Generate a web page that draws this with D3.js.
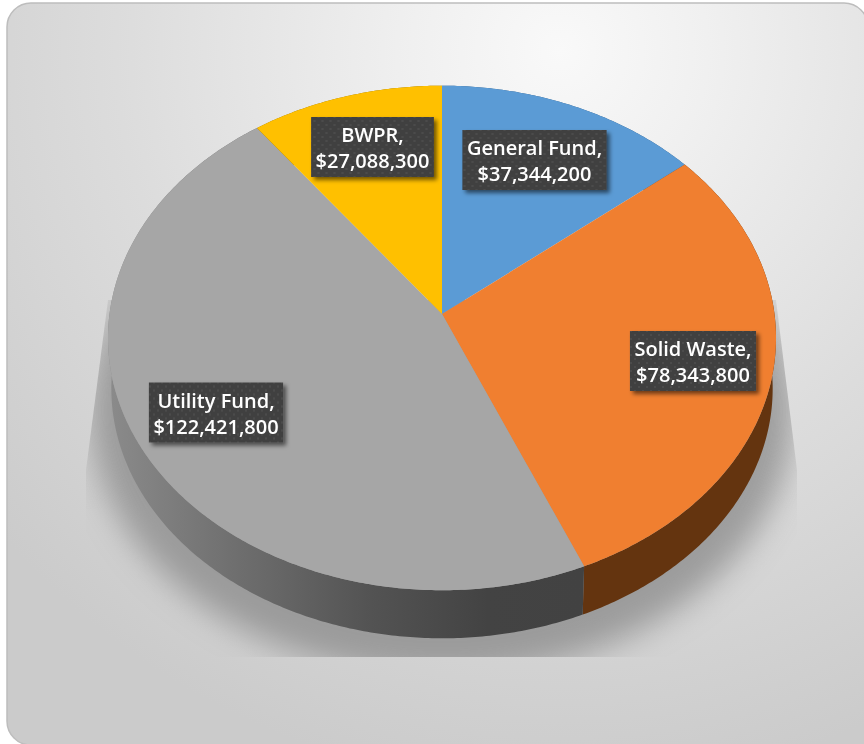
<!DOCTYPE html>
<html>
<head>
<meta charset="utf-8">
<script src="https://cdn.jsdelivr.net/npm/d3@7"></script>
<style>
  html, body { margin: 0; padding: 0; background: #fff; }
  svg { display: block; }
</style>
</head>
<body>
<svg id="chart" width="864" height="744"></svg>
<script>
// Fund budgets
const fundNames = ["General Fund", "Solid Waste", "Utility Fund", "BWPR"];
const fundBudgets = [37344200, 78343800, 122421800, 27088300];
const topColors = ["#5b9bd5", "#f07f30", "#a6a6a6", "#ffc000"];
const sideColors = ["#2f5a82", "#64340f", "url(#sideGray)", "#8a6800"];

// Centre of each label box
const labelCentres = [[534.5, 160], [693, 361], [216, 412.5], [372.5, 147]];

const width = 864, height = 744;

// Perspective view of the disc: k tilts the far rim away from the viewer
const view = { cx: 442, cy: 314, a: 332.5, b: 250, k: 0.095 };
const depth = { drop: 50.8, shrink: 0.99 };

function project(angle, lower) {
  const u = Math.sin(angle), v = Math.cos(angle), w = 1 + view.k * v;
  const s = lower ? depth.shrink : 1;
  return [
    view.cx + s * view.a * u / w,
    view.cy + (lower ? depth.drop : 0) - s * view.b * v / w
  ];
}

const svg = d3.select("#chart");
const defs = svg.append("defs");

// Panel fill
const panelGrad = defs.append("radialGradient")
  .attr("id", "panelFill").attr("gradientUnits", "userSpaceOnUse")
  .attr("cx", 560).attr("cy", 50).attr("r", 740);
[[0, "#f9f9f9"], [0.2, "#f0f0f0"], [0.6, "#dcdcdc"], [1, "#cbcbcb"]]
  .forEach(([o, c]) => panelGrad.append("stop").attr("offset", o).attr("stop-color", c));

// Rim shading of the large grey slice
const sideGrad = defs.append("linearGradient")
  .attr("id", "sideGray").attr("gradientUnits", "userSpaceOnUse")
  .attr("x1", 112).attr("x2", 582).attr("y1", 0).attr("y2", 0);
[[0, "#8a8a8a"], [0.25, "#707070"], [0.55, "#535353"], [0.8, "#434343"], [1, "#424242"]]
  .forEach(([o, c]) => sideGrad.append("stop").attr("offset", o).attr("stop-color", c));

defs.append("filter").attr("id", "castBlur")
  .attr("x", "-20%").attr("y", "-20%").attr("width", "140%").attr("height", "140%")
  .append("feGaussianBlur").attr("stdDeviation", 16);

const boxShadow = defs.append("filter").attr("id", "boxShadow")
  .attr("x", "-15%").attr("y", "-20%").attr("width", "130%").attr("height", "145%");
boxShadow.append("feDropShadow")
  .attr("dx", 3).attr("dy", 3).attr("stdDeviation", 2)
  .attr("flood-color", "#000").attr("flood-opacity", 0.55);

const textSoft = defs.append("filter").attr("id", "textSoft")
  .attr("x", "-5%").attr("y", "-10%").attr("width", "110%").attr("height", "120%");
textSoft.append("feGaussianBlur").attr("stdDeviation", 0.3);

// Dotted texture on the label boxes
const dots = defs.append("pattern").attr("id", "boxDots")
  .attr("patternUnits", "userSpaceOnUse").attr("width", 8).attr("height", 8);
dots.append("rect").attr("width", 8).attr("height", 8).attr("fill", "#404040");
[[2, 2], [6, 6]].forEach(([x, y]) => dots.append("circle")
  .attr("cx", x).attr("cy", y).attr("r", 0.9).attr("fill", "#505050"));

const shadowClip = defs.append("clipPath").attr("id", "shadowClip");
shadowClip.append("path").attr("d", "M108,300L86,470V657H797V470L776,300Z");

// Panel: the lower right corner runs off the page
const r = 24, x0 = 7, y0 = 3, x1 = 868, y1 = 745;
svg.append("path")
  .attr("d", `M${x0 + r},${y0}H${x1 - r}A${r},${r} 0 0 1 ${x1},${y0 + r}V${y1 + 10}H${x0 + r}`
    + `V${y1}A${r},${r} 0 0 1 ${x0},${y1 - r}V${y0 + r}A${r},${r} 0 0 1 ${x0 + r},${y0}Z`)
  .attr("fill", "url(#panelFill)").attr("stroke", "#bdbdbd").attr("stroke-width", 1.5);

// Cast shadow under the disc
svg.append("g").attr("clip-path", "url(#shadowClip)")
  .append("ellipse")
  .attr("cx", 442).attr("cy", 410).attr("rx", 352).attr("ry", 266)
  .attr("fill", "#888888").attr("opacity", 0.75)
  .attr("filter", "url(#castBlur)");

// Slices
const pie = d3.pie().sort(null).value(d => d)
  .startAngle(0).endAngle(2 * Math.PI);
const arcs = pie(fundBudgets);
const outline = d3.line();

function rimAngles(d) {
  const n = Math.max(2, Math.ceil((d.endAngle - d.startAngle) / 0.01));
  return d3.range(n + 1).map(i => d.startAngle + (d.endAngle - d.startAngle) * i / n);
}

// Rim first, so that the top face covers its upper edge
svg.append("g").selectAll("path").data(arcs).join("path")
  .attr("d", d => {
    const angles = rimAngles(d);
    const pts = angles.map(a => project(a, false))
      .concat(angles.slice().reverse().map(a => project(a, true)));
    return outline(pts) + "Z";
  })
  .attr("fill", (d, i) => sideColors[i]);

svg.append("g").selectAll("path").data(arcs).join("path")
  .attr("d", d => outline([[view.cx, view.cy]].concat(rimAngles(d).map(a => project(a, false)))) + "Z")
  .attr("fill", (d, i) => topColors[i]);

// Value labels
const money = d3.format("$,");
const labels = svg.append("g").selectAll("g").data(arcs).join("g")
  .attr("transform", (d, i) => `translate(${labelCentres[i][0]},${labelCentres[i][1]})`);

labels.append("rect")
  .attr("fill", "url(#boxDots)").attr("filter", "url(#boxShadow)");

const labelText = labels.append("text")
  .attr("text-anchor", "middle")
  .attr("fill", "#ffffff")
  .attr("font-family", "'Open Sans', sans-serif")
  .attr("font-weight", 600)
  .attr("font-size", 20)
  .attr("filter", "url(#textSoft)");
labelText.append("tspan").attr("x", 0).attr("y", -5).text((d, i) => fundNames[i] + ",");
labelText.append("tspan").attr("x", 0).attr("y", 21).text(d => money(d.value));

// Box width follows the text
labels.each(function () {
  const g = d3.select(this);
  const w = g.select("text").node().getBBox().width + 9;
  g.select("rect").attr("x", -w / 2).attr("y", -30).attr("width", w).attr("height", 60);
});
</script>
</body>
</html>
